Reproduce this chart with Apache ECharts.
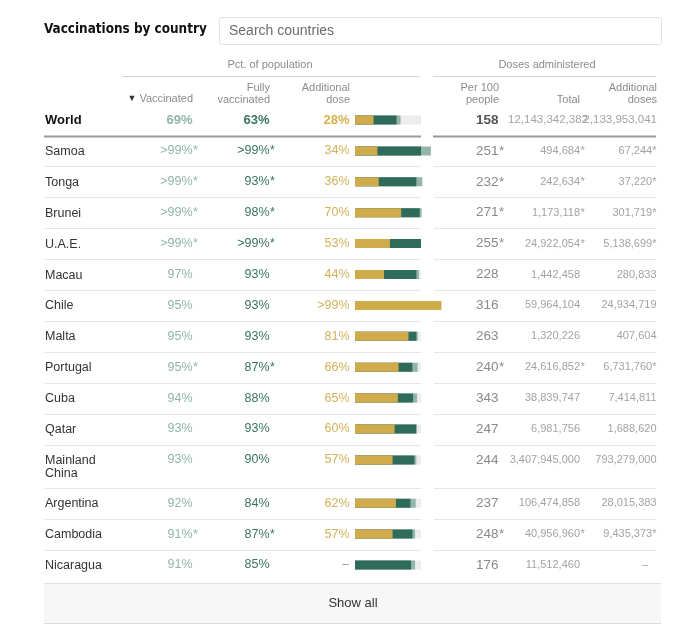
<!DOCTYPE html>
<html><head><meta charset="utf-8">
<script src="https://cdn.jsdelivr.net/npm/echarts@6/dist/echarts.min.js"></script>
<style>html,body{margin:0;padding:0;background:#fff}#c{width:697px;height:633px}</style>
</head><body><div id="c"></div>
<script>
// ---- data ----
const countries = ['World','Samoa','Tonga','Brunei','U.A.E.','Macau','Chile','Malta','Portugal','Cuba','Qatar','Mainland\nChina','Argentina','Cambodia','Nicaragua'];
const vaccinatedText = ['69%','>99%*','>99%*','>99%*','>99%*','97%','95%','95%','95%*','94%','93%','93%','92%','91%*','91%'];
const fullyText = ['63%','>99%*','93%*','98%*','>99%*','93%','93%','93%','87%*','88%','93%','90%','84%','87%*','85%'];
const additionalText = ['28%','34%','36%','70%','53%','44%','>99%','81%','66%','65%','60%','57%','62%','57%','–'];
const per100Text = ['158','251*','232*','271*','255*','228','316','263','240*','343','247','244','237','248*','176'];
const totalText = ['12,143,342,382','494,684*','242,634*','1,173,118*','24,922,054*','1,442,458','59,964,104','1,320,226','24,616,852*','38,839,747','6,981,756','3,407,945,000','106,474,858','40,956,960*','11,512,460'];
const addDosesText = ['2,133,953,041','67,244*','37,220*','301,719*','5,138,699*','280,833','24,934,719','407,604','6,731,760*','7,414,811','1,688,620','793,279,000','28,015,383','9,435,373*','–'];
// bar lengths (% of population, as drawn)
const addBar  = [28, 34, 36, 70, 53, 44, 131, 81, 66, 65, 60, 57, 62, 57, 0];
const fullBar = [63, 100, 93, 98, 100, 93, 93, 93, 87, 88, 93, 90, 84, 87, 85];
const vaxBar  = [69, 115, 102, 101, 100, 97, 95, 95, 95, 94, 93, 93, 92, 91, 91];

// ---- layout helpers ----
const ROW = 30.9, EXTRA = 12.4;
const lines = countries.map(c => c.split('\n').length);
const anchors = [];
countries.forEach((c, i) => { anchors.push(i === 0 ? 0 : anchors[i-1] + ROW + EXTRA * (lines[i-1] - 1)); });
const rows = countries.map((c, i) => [i, anchors[i]]);

const F = "'Liberation Sans', Arial, sans-serif";
const C = {
  gold: '#cfab4b', green: '#2f6b5a', light: '#93b6aa', track: '#ececec',
  vaxT: '#8fb6a6', fullT: '#3a7462', addT: '#d2b15a', name: '#333', per: '#8a8a8a', tot: '#a3a3a3'
};
function txt(x, y, s, o) {
  return { type: 'text', x: x, y: y, style: Object.assign({ text: s, font: (o.w || 'normal') + ' ' + o.s + 'px ' + F, fill: o.c, align: o.a || 'right', verticalAlign: 'middle' }, o.extra || {}) };
}
function hang(x, y, s, o) {
  const out = [];
  const star = s.endsWith('*');
  const main = star ? s.slice(0, -1) : s;
  out.push(txt(x, y, main, o));
  if (star) out.push(txt(x + 0.5, y, '*', Object.assign({}, o, { a: 'left' })));
  return out;
}

function renderItem(params, api) {
  const i = api.value(0);
  const y = api.coord([0, api.value(1)])[1];
  const x0 = api.coord([0, api.value(1)])[0];
  const bold = i === 0;
  const w = bold ? 'bold' : 'normal';
  const ch = [];
  const BH = 9;
  const seg = (v, color) => {
    const x1 = api.coord([v, api.value(1)])[0];
    if (v > 0) ch.push({ type: 'rect', shape: { x: x0, y: y - BH / 2, width: x1 - x0, height: BH }, style: { fill: color } });
  };
  seg(100, C.track);
  seg(vaxBar[i], C.light);
  seg(fullBar[i], C.green);
  seg(addBar[i], C.gold);
  // country name
  ch.push({ type: 'text', x: 45, y: y - 5.8, style: { text: countries[i], font: w + ' ' + (bold ? 13 : 12.5) + 'px ' + F, fill: bold ? '#111' : C.name, align: 'left', verticalAlign: 'top', lineHeight: 12.7 } });
  hang(192.5, y, vaccinatedText[i], { s: bold ? 13 : 12.5, w: w, c: C.vaxT }).forEach(e => ch.push(e));
  hang(269.5, y, fullyText[i], { s: bold ? 13 : 12.5, w: w, c: C.fullT }).forEach(e => ch.push(e));
  if (additionalText[i] === '–') ch.push(txt(349, y, '–', { s: 12, c: '#999' }));
  else ch.push(txt(349.5, y, additionalText[i], { s: bold ? 13 : 12.5, w: w, c: bold ? '#d6b048' : C.addT }));
  hang(498.5, y, per100Text[i], { s: 13.5, w: w, c: bold ? '#555' : C.per }).forEach(e => ch.push(e));
  if (bold) {
    ch.push(txt(588, y, totalText[i], { s: 11.5, c: C.tot }));
    ch.push(txt(657, y, addDosesText[i], { s: 11.5, c: C.tot }));
  } else {
    hang(580, y, totalText[i], { s: 11, c: C.tot }).forEach(e => ch.push(e));
    if (addDosesText[i] === '–') ch.push(txt(648, y, '–', { s: 11, c: C.tot }));
    else ch.push(txt(656.5, y, addDosesText[i], { s: 11, c: C.tot }));
  }
  // separators
  const sepY = Math.round(y + 15.5 + EXTRA * (lines[i] - 1)) + 0.5;
  if (i === 0) {
    ch.push({ type: 'line', shape: { x1: 44, y1: sepY, x2: 421, y2: sepY }, style: { stroke: '#999', lineWidth: 2 } });
    ch.push({ type: 'line', shape: { x1: 433, y1: sepY, x2: 656, y2: sepY }, style: { stroke: '#999', lineWidth: 2 } });
  } else if (i < countries.length - 1) {
    ch.push({ type: 'line', shape: { x1: 44, y1: sepY, x2: 421, y2: sepY }, style: { stroke: '#e6e6e6', lineWidth: 1 } });
    ch.push({ type: 'line', shape: { x1: 434, y1: sepY, x2: 656, y2: sepY }, style: { stroke: '#e6e6e6', lineWidth: 1 } });
  }
  return { type: 'group', children: ch };
}

const hdr = (x, y, s, a) => ({ type: 'text', x: x, y: y, style: { text: s, font: '11px ' + F, fill: '#8c8c8c', align: a || 'right', verticalAlign: 'middle' } });

const chart = echarts.init(document.getElementById('c'), null, { renderer: 'canvas' });
chart.setOption({
  animation: false,
  grid: { left: 355, right: 697 - 421, top: 120, bottom: 633 - 120 - 445 },
  xAxis: { type: 'value', min: 0, max: 100, show: false },
  yAxis: { type: 'value', min: 0, max: anchors[anchors.length - 1], inverse: true, show: false },
  series: [{ type: 'custom', renderItem: renderItem, data: rows, encode: { x: -1, y: 1 }, clip: false }],
  graphic: [
    { type: 'text', x: 44, y: 30, style: { text: 'Vaccinations by country', font: "bold 13.4px 'DejaVu Sans Condensed', 'Liberation Sans', sans-serif", fill: '#121212', verticalAlign: 'middle' } },
    { type: 'rect', shape: { x: 219.5, y: 17.5, width: 442, height: 27, r: 2 }, style: { fill: '#fff', stroke: '#e3e3e3', lineWidth: 1 } },
    { type: 'text', x: 229, y: 31, style: { text: 'Search countries', font: '14px ' + F, fill: '#6b6b6b', verticalAlign: 'middle' } },
    hdr(270, 65, 'Pct. of population', 'center'),
    hdr(547, 65, 'Doses administered', 'center'),
    { type: 'line', shape: { x1: 122, y1: 76.5, x2: 420, y2: 76.5 }, style: { stroke: '#d4d4d4', lineWidth: 1 } },
    { type: 'line', shape: { x1: 433, y1: 76.5, x2: 656, y2: 76.5 }, style: { stroke: '#d4d4d4', lineWidth: 1 } },
    { type: 'text', x: 193, y: 99, style: { text: '{t|▼} Vaccinated', font: '11px ' + F, fill: '#8c8c8c', align: 'right', verticalAlign: 'middle', rich: { t: { fill: '#333', font: '9px ' + F } } } },
    hdr(270, 88, 'Fully'), hdr(270, 99.5, 'vaccinated'),
    hdr(350, 88, 'Additional'), hdr(350, 99.5, 'dose'),
    hdr(499, 88, 'Per 100'), hdr(499, 99.5, 'people'),
    hdr(580, 99.5, 'Total'),
    hdr(657, 88, 'Additional'), hdr(657, 99.5, 'doses'),
    { type: 'rect', shape: { x: 44, y: 583, width: 617, height: 40 }, style: { fill: '#f7f7f7' } },
    { type: 'line', shape: { x1: 44, y1: 583.5, x2: 661, y2: 583.5 }, style: { stroke: '#e2e2e2', lineWidth: 1 } },
    { type: 'line', shape: { x1: 44, y1: 623.5, x2: 661, y2: 623.5 }, style: { stroke: '#dcdcdc', lineWidth: 1 } },
    { type: 'text', x: 353, y: 603, style: { text: 'Show all', font: '13px ' + F, fill: '#333', align: 'center', verticalAlign: 'middle' } }
  ]
});
</script></body></html>
